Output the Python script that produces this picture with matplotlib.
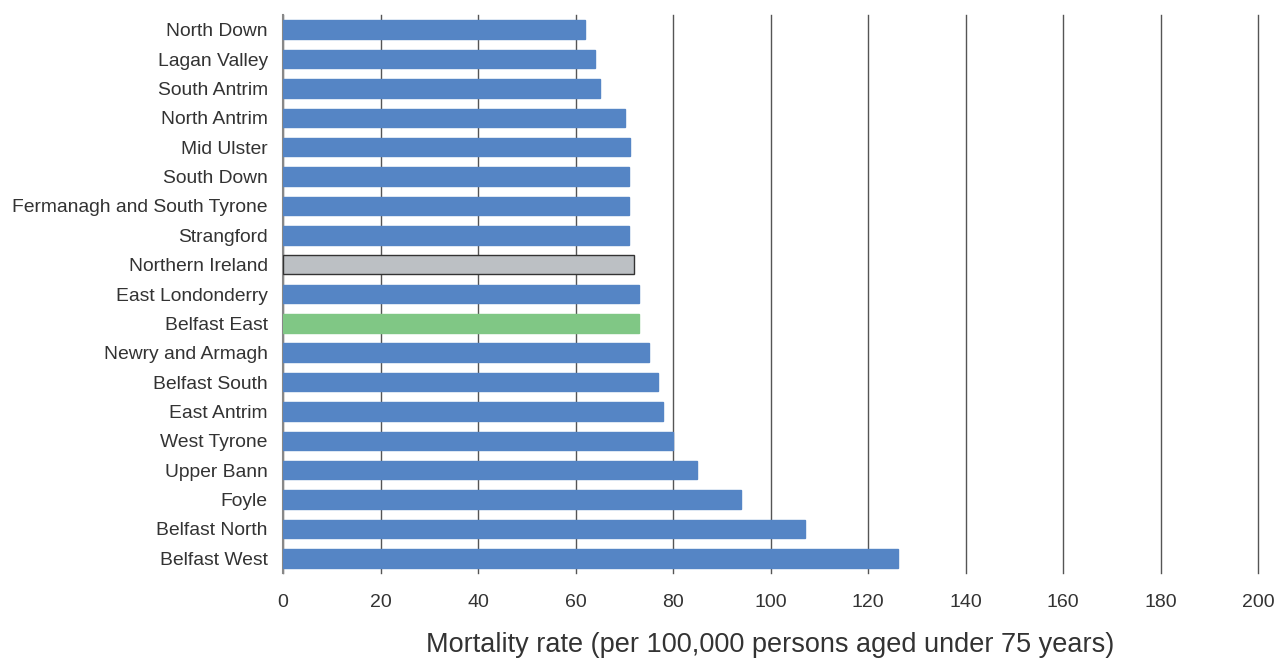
import matplotlib.pyplot as plt
import numpy as np

# constituencies, top to bottom
areas = ["North Down", "Lagan Valley", "South Antrim", "North Antrim", "Mid Ulster",
         "South Down", "Fermanagh and South Tyrone", "Strangford", "Northern Ireland",
         "East Londonderry", "Belfast East", "Newry and Armagh", "Belfast South",
         "East Antrim", "West Tyrone", "Upper Bann", "Foyle", "Belfast North",
         "Belfast West"]
rates = [62, 64, 65, 70.2, 71.2, 71, 71, 71, 72, 73, 73, 75, 77, 78, 80, 85, 94, 107, 126.2]
x_ticks = [0, 20, 40, 60, 80, 100, 120, 140, 160, 180, 200]

BLUE = "#5585c5"
GREEN = "#80c785"
GREY = "#bcc0c4"
TEXT = "#333333"

colors = []
edges = []
for a in areas:
  if a == "Northern Ireland":
    colors.append(GREY)
    edges.append("#333333")
  elif a == "Belfast East":
    colors.append(GREEN)
    edges.append(GREEN)
  else:
    colors.append(BLUE)
    edges.append(BLUE)

plt.rcParams["font.family"] = ["Liberation Sans", "DejaVu Sans"]

fig = plt.figure(figsize=(12.77, 6.6), dpi=100)
ax = fig.add_axes([283 / 1277, 1 - 573 / 660, (1258 - 283) / 1277, (573 - 15) / 660])

y = np.arange(len(areas))
ax.barh(y, rates, height=0.63, color=colors, edgecolor=edges, linewidth=1.0, zorder=3)

ax.set_ylim(len(areas) - 0.5, -0.5)
ax.set_xlim(0, 200)
ax.set_yticks(y)
ax.set_yticklabels(areas, fontsize=13.9, color=TEXT)
ax.set_xticks(x_ticks)
ax.set_xticklabels([str(t) for t in x_ticks], fontsize=14, color=TEXT)
ax.tick_params(axis="y", length=0, pad=11)
ax.tick_params(axis="x", length=0, pad=15)

ax.grid(axis="x", color="#555555", linewidth=1.0, zorder=0)
for gl in ax.get_xgridlines():
  gl.set_clip_on(False)
for s in ["top", "right", "bottom"]:
  ax.spines[s].set_visible(False)
ax.spines["left"].set_color("#888888")
ax.spines["left"].set_linewidth(1.5)

ax.set_xlabel("Mortality rate (per 100,000 persons aged under 75 years)",
              fontsize=19.5, color=TEXT, labelpad=15)

fig.savefig("out.png", dpi=100)
